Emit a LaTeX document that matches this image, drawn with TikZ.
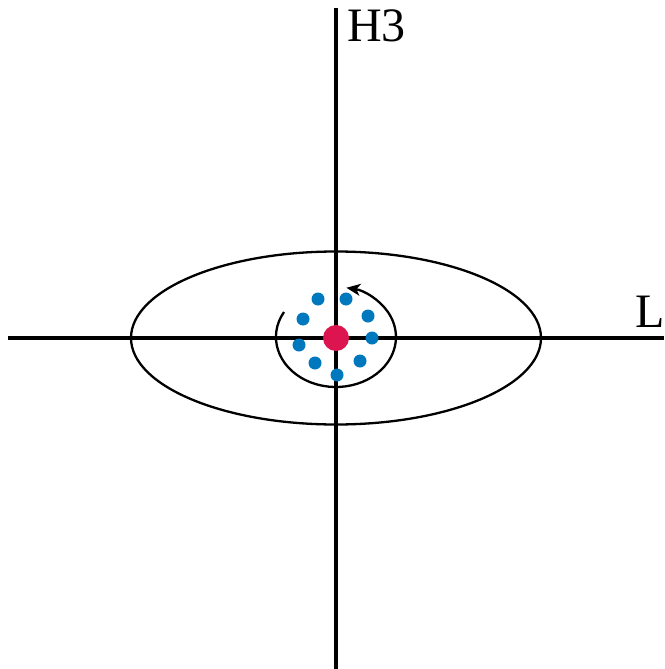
\documentclass[tikz,border=0pt]{standalone}
\usepackage{fontspec}
\setmainfont{Liberation Serif}
\usetikzlibrary{arrows.meta}

\begin{document}
\begin{tikzpicture}[
    x=1pt,y=-1pt,
    axis/.style={line width=3.2pt},
    orbit/.style={line width=2.3pt},
    label/.style={inner sep=0pt,anchor=base west,font=\fontsize{48}{48}\selectfont},
    ion/.style={circle,fill={rgb,255:red,0;green,120;blue,190},minimum size=13pt,inner sep=0pt},
    core/.style={circle,fill={rgb,255:red,220;green,20;blue,80},minimum size=26pt,inner sep=0pt}
]
    \useasboundingbox (0,0) rectangle (664,669);

    \coordinate (O) at (336,338);
    \coordinate (N) at (336,8);
    \coordinate (S) at (336,669);
    \coordinate (W) at (8,338);
    \coordinate (E) at (664,338);
    \coordinate (T) at (284,312);

    % axes
    \draw[axis] (W) -- (E);
    \draw[axis] (N) -- (S);

    \node[label] (h3) at (347,42) {H3};
    \node[label] (l) at (635,327) {L};

    % outer orbit
    \draw[orbit] (O) ellipse (205 and 86.5);

    % inner orbit with arrow
    \draw[orbit,-{Stealth[length=14pt,width=12pt,inset=4pt]}]
        (T) arc[start angle=210,end angle=-80,x radius=60,y radius=50];

    \foreach \name/\x/\y in {a/318/299,b/346/299,c/303/319,d/368/316,e/372/338,
                             f/299/345,g/315/363,h/337/375,i/360/361}
        \node[ion] (\name) at (\x,\y) {};

    \node[core] (c0) at (O) {};
\end{tikzpicture}
\end{document}
